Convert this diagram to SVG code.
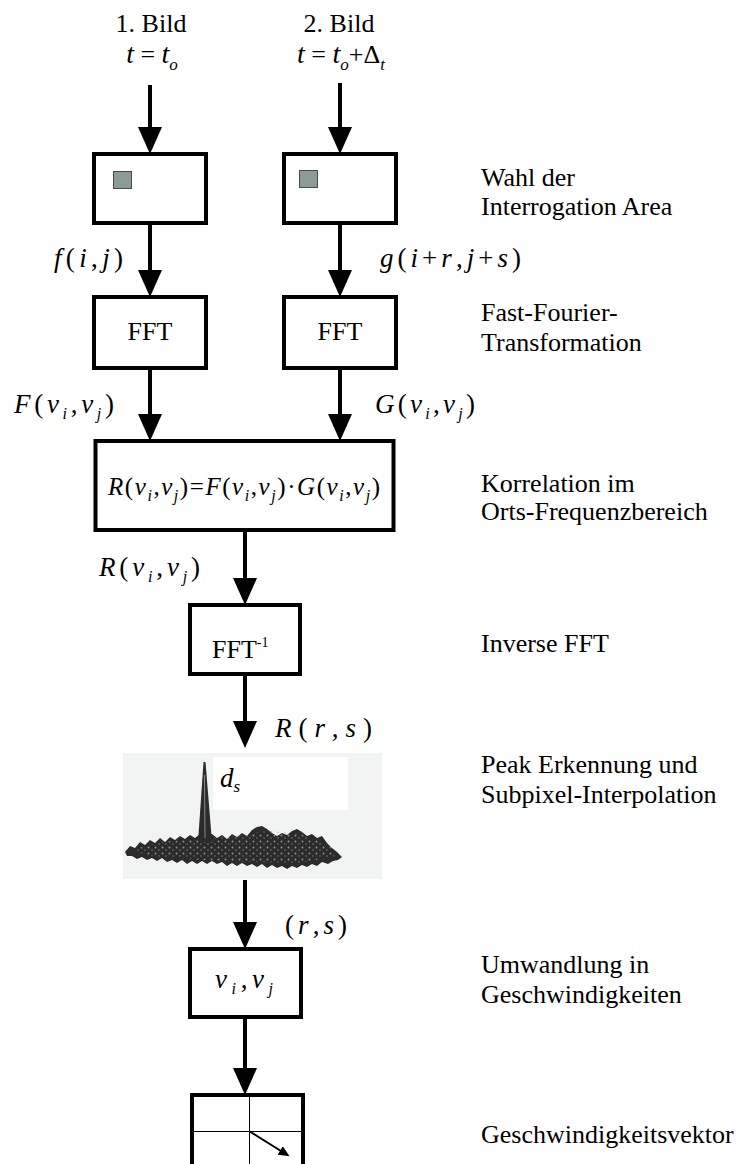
<svg xmlns="http://www.w3.org/2000/svg" width="743" height="1164" viewBox="0 0 743 1164">
  <style>
    .box { fill: #ffffff; stroke: #000000; stroke-width: 4; }
    .lbl { font-family: "Liberation Serif", "Times New Roman", serif; font-size: 26px; fill: #000000; }
    .m { font-family: "Liberation Serif", "Times New Roman", serif; font-style: italic; font-size: 27px; fill: #000000; }
    .f { font-size: 25px; }
    .u { font-style: normal; }
    .s { font-size: 16px; }
    .edge { fill: none; stroke: #000000; stroke-width: 4; marker-end: url(#ah); }
    .grid { stroke: #000000; stroke-width: 1; }
    .patch { fill: #8c9b96; stroke: #4a4a4a; stroke-width: 1; }
  </style>
  <defs>
    <marker id="ah" markerUnits="userSpaceOnUse" markerWidth="28" markerHeight="24" refX="1" refY="12" orient="auto">
      <path d="M0,0 L27,12 L0,24 z" fill="#000000"/>
    </marker>
    <marker id="ahs" markerUnits="userSpaceOnUse" markerWidth="12" markerHeight="10" refX="1" refY="5" orient="auto">
      <path d="M0,0 L11,5 L0,10 z" fill="#000000"/>
    </marker>
    <pattern id="speckle" width="7" height="6" patternUnits="userSpaceOnUse">
      <circle cx="1.5" cy="1.5" r="0.9" fill="#a0a0a0"/>
      <circle cx="5" cy="4" r="0.8" fill="#808080"/>
    </pattern>
  </defs>

  <!-- input captions -->
  <g id="input1">
    <text class="lbl" x="151" y="32" text-anchor="middle">1. Bild</text>
    <text class="lbl" x="152" y="63" text-anchor="middle"><tspan font-style="italic" font-size="28">t</tspan> = <tspan font-style="italic" font-size="28">t</tspan><tspan font-style="italic" font-size="17" dy="7">o</tspan></text>
  </g>
  <g id="input2">
    <text class="lbl" x="339" y="32" text-anchor="middle">2. Bild</text>
    <text class="lbl" x="341" y="63" text-anchor="middle"><tspan font-style="italic" font-size="28">t</tspan> = <tspan font-style="italic" font-size="28">t</tspan><tspan font-style="italic" font-size="17" dy="7">o</tspan><tspan dy="-7">+Δ</tspan><tspan font-style="italic" font-size="17" dy="7">t</tspan></text>
  </g>

  <!-- interrogation area boxes -->
  <g id="area1">
    <rect class="box" x="94" y="154" width="112" height="69"/>
    <rect class="patch" x="113.5" y="171.5" width="18" height="17"/>
  </g>
  <g id="area2">
    <rect class="box" x="284" y="154" width="112" height="69"/>
    <rect class="patch" x="299.5" y="170.5" width="18" height="17"/>
  </g>

  <!-- FFT boxes -->
  <g id="fft1">
    <rect class="box" x="94" y="297" width="112" height="71"/>
    <text class="lbl" x="150" y="340" text-anchor="middle">FFT</text>
  </g>
  <g id="fft2">
    <rect class="box" x="284" y="297" width="112" height="71"/>
    <text class="lbl" x="340" y="340" text-anchor="middle">FFT</text>
  </g>

  <!-- correlation -->
  <g id="correlation">
    <rect class="box" x="95.5" y="441" width="298" height="89"/>
    <text class="m f" x="108" y="495" textLength="272" lengthAdjust="spacing">R<tspan class="u">(</tspan>v<tspan class="s" dy="6">i</tspan><tspan class="u" dy="-6">,</tspan>v<tspan class="s" dy="6">j</tspan><tspan class="u" dy="-6">)=</tspan>F<tspan class="u">(</tspan>v<tspan class="s" dy="6">i</tspan><tspan class="u" dy="-6">,</tspan>v<tspan class="s" dy="6">j</tspan><tspan class="u" dy="-6">)·</tspan>G<tspan class="u">(</tspan>v<tspan class="s" dy="6">i</tspan><tspan class="u" dy="-6">,</tspan>v<tspan class="s" dy="6">j</tspan><tspan class="u" dy="-6">)</tspan></text>
  </g>

  <!-- inverse FFT -->
  <g id="ifft">
    <rect class="box" x="190" y="605" width="110" height="69"/>
    <text class="lbl" x="212" y="658">FFT<tspan font-size="14" dy="-11">-1</tspan></text>
  </g>

  <!-- correlation peak plot -->
  <g id="peak">
    <rect x="123" y="753" width="259" height="126" fill="#f2f4f4"/>
    <rect x="213" y="757" width="135" height="53" fill="#ffffff"/>
    <path id="band" fill="#2b2b2b" d="M125,852 L130,846 L135,848 L140,842 L145,845 L150,840 L155,843 L160,838 L165,842 L170,837 L175,840 L180,836 L185,839 L190,835 L195,838 L200,834 L212,834 L217,838 L222,835 L227,839 L232,834 L237,837 L242,833 L247,836 L252,830 L257,827 L262,826 L267,829 L272,833 L277,836 L282,833 L287,835 L292,831 L297,829 L302,832 L307,836 L312,834 L317,838 L322,836 L327,843 L332,848 L337,852 L342,857 L338,860 L333,861 L328,864 L322,862 L317,866 L312,864 L307,867 L302,865 L297,868 L292,866 L287,869 L282,866 L277,868 L272,865 L267,868 L262,864 L257,867 L252,864 L247,866 L242,863 L237,866 L232,863 L227,866 L222,862 L217,864 L212,861 L207,864 L202,861 L197,864 L192,861 L187,864 L182,860 L177,863 L172,860 L167,862 L162,858 L157,861 L152,858 L147,860 L142,857 L137,859 L132,856 L127,856 Z"/>
    <path fill="url(#speckle)" opacity="0.9" d="M132,850 L160,842 L200,839 L250,835 L262,830 L300,834 L330,846 L336,856 L300,863 L250,862 L200,860 L150,856 Z"/>
    <polygon points="198,842 203.5,762 205.5,762 212,842" fill="#2b2b2b"/>
    <line x1="204.5" y1="775" x2="205" y2="838" stroke="#8a8a8a" stroke-width="1"/>
    <text class="m" x="220" y="787">d<tspan font-size="17" dy="5">s</tspan></text>
  </g>

  <!-- velocity conversion -->
  <g id="velocity">
    <rect class="box" x="190" y="949" width="111" height="68"/>
    <text class="m" x="215" y="988" textLength="58" lengthAdjust="spacing">v<tspan class="s" dy="6">i</tspan><tspan class="u" dy="-6">,</tspan>v<tspan class="s" dy="6">j</tspan></text>
  </g>

  <!-- velocity vector grid -->
  <g id="vector">
    <rect class="box" x="192" y="1095" width="111" height="90"/>
    <line class="grid" x1="249.5" y1="1095" x2="249.5" y2="1164"/>
    <line class="grid" x1="192" y1="1131.5" x2="303" y2="1131.5"/>
    <line x1="249" y1="1131" x2="281" y2="1151" stroke="#000000" stroke-width="2" marker-end="url(#ahs)"/>
  </g>

  <!-- connectors -->
  <g id="connectors">
    <path class="edge" d="M150,85 V128"/>
    <path class="edge" d="M340,83 V128"/>
    <path class="edge" d="M150,225 V271"/>
    <path class="edge" d="M340,225 V271"/>
    <path class="edge" d="M150,370 V415"/>
    <path class="edge" d="M340,370 V415"/>
    <path class="edge" d="M245,532 V579"/>
    <path class="edge" d="M245,676 V722"/>
    <path class="edge" d="M245,880 V923"/>
    <path class="edge" d="M245,1019 V1069"/>
  </g>

  <!-- connector labels -->
  <g id="edge-labels">
    <text class="m" x="54" y="267" textLength="69" lengthAdjust="spacing">f<tspan class="u">(</tspan>i<tspan class="u">,</tspan>j<tspan class="u">)</tspan></text>
    <text class="m" x="380" y="267" textLength="141" lengthAdjust="spacing">g<tspan class="u">(</tspan>i<tspan class="u">+</tspan>r<tspan class="u">,</tspan>j<tspan class="u">+</tspan>s<tspan class="u">)</tspan></text>
    <text class="m" x="14" y="413" textLength="100" lengthAdjust="spacing">F<tspan class="u">(</tspan>v<tspan class="s" dy="6">i</tspan><tspan class="u" dy="-6">,</tspan>v<tspan class="s" dy="6">j</tspan><tspan class="u" dy="-6">)</tspan></text>
    <text class="m" x="375" y="413" textLength="100" lengthAdjust="spacing">G<tspan class="u">(</tspan>v<tspan class="s" dy="6">i</tspan><tspan class="u" dy="-6">,</tspan>v<tspan class="s" dy="6">j</tspan><tspan class="u" dy="-6">)</tspan></text>
    <text class="m" x="99" y="576" textLength="101" lengthAdjust="spacing">R<tspan class="u">(</tspan>v<tspan class="s" dy="6">i</tspan><tspan class="u" dy="-6">,</tspan>v<tspan class="s" dy="6">j</tspan><tspan class="u" dy="-6">)</tspan></text>
    <text class="m" x="275" y="737" textLength="97" lengthAdjust="spacing">R<tspan class="u">(</tspan>r<tspan class="u">,</tspan>s<tspan class="u">)</tspan></text>
    <text class="m" x="285" y="934" textLength="62" lengthAdjust="spacing"><tspan class="u">(</tspan>r<tspan class="u">,</tspan>s<tspan class="u">)</tspan></text>
  </g>

  <!-- step descriptions -->
  <g id="steps">
    <text class="lbl" x="481" y="186">Wahl der</text>
    <text class="lbl" x="481" y="215">Interrogation Area</text>
    <text class="lbl" x="481" y="321">Fast-Fourier-</text>
    <text class="lbl" x="481" y="351">Transformation</text>
    <text class="lbl" x="481" y="492">Korrelation im</text>
    <text class="lbl" x="481" y="520">Orts-Frequenzbereich</text>
    <text class="lbl" x="481" y="652">Inverse FFT</text>
    <text class="lbl" x="481" y="773">Peak Erkennung und</text>
    <text class="lbl" x="481" y="803">Subpixel-Interpolation</text>
    <text class="lbl" x="481" y="973">Umwandlung in</text>
    <text class="lbl" x="481" y="1003">Geschwindigkeiten</text>
    <text class="lbl" x="481" y="1143">Geschwindigkeitsvektor</text>
  </g>
</svg>
